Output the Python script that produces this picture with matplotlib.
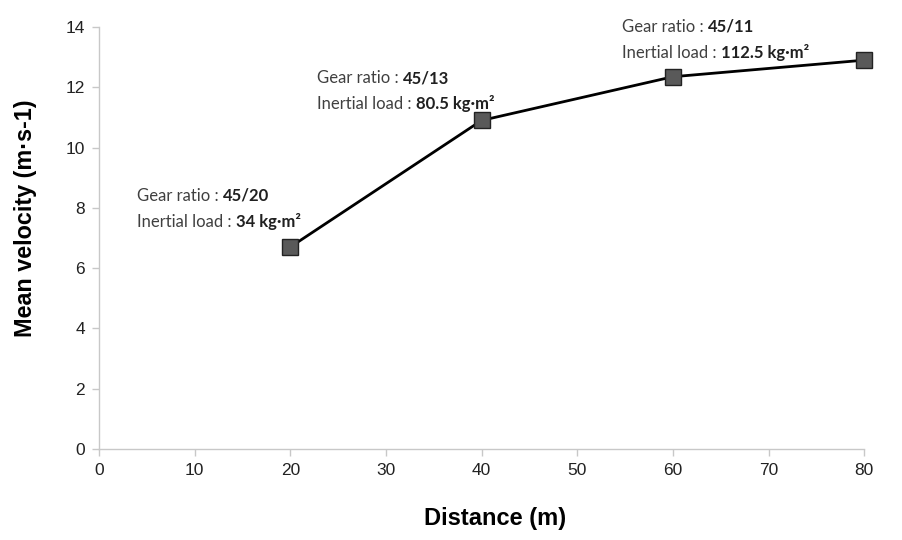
import matplotlib
matplotlib.use('Agg')
import matplotlib.pyplot as plt
from matplotlib.offsetbox import TextArea, HPacker, AnnotationBbox

## Data
distance = [20, 40, 60, 80]
velocity = [6.7, 10.9, 12.35, 12.9]
gear_ratio = ['45/20', '45/13', '45/11']
inertial_load = ['34', '80.5', '112.5']
# label anchor (x, y of first line) in data units
label_xy = [(4, 8.4), (22.8, 12.3), (54.7, 14.0)]

TXT = '#404040'
LBL_FONT = ['Lato', 'DejaVu Sans']
ARIAL = ['Liberation Sans', 'DejaVu Sans']

f = plt.figure(figsize=(9.03, 5.40), dpi=100)
ax = f.add_axes([0.1096, 0.1685, 0.957 - 0.1096, 0.95 - 0.1685])

ax.plot(distance, velocity, color='black', lw=2, marker='s', ms=11,
        mfc='#595959', mec='#222222', mew=1, zorder=3, clip_on=False)

ax.set_xlim(0, 80)
ax.set_ylim(0, 14)
ax.set_xticks(range(0, 81, 10))
ax.set_yticks(range(0, 15, 2))
for s in ['top', 'right']:
    ax.spines[s].set_visible(False)
for s in ['left', 'bottom']:
    ax.spines[s].set_color('#c8c8c8')
    ax.spines[s].set_linewidth(1)
ax.tick_params(axis='both', colors='#c8c8c8', labelcolor='#222222',
               labelsize=12.5, length=5, width=1, direction='out')
for lab in ax.get_xticklabels() + ax.get_yticklabels():
    lab.set_family(ARIAL)
ax.tick_params(axis='x', pad=5)
ax.tick_params(axis='y', pad=5)

ax.set_xlabel('Distance (m)', fontsize=17, fontweight='bold', family=ARIAL)
ax.set_ylabel('Mean velocity (m·s-1)', fontsize=16.8, fontweight='bold',
              family=ARIAL)
# Excel puts the titles slightly off-centre
ax.xaxis.set_label_coords(0.517, -0.138)
ax.yaxis.set_label_coords(-0.081, 0.547)

## Annotations: normal text followed by bold value, aligned on baseline
dy = 0.85
for (x, y), g, l in zip(label_xy, gear_ratio, inertial_load):
    for i, (plain, bold) in enumerate([('Gear ratio : ', g),
                                       ('Inertial load : ', l + ' kg·m²')]):
        p1 = TextArea(plain, textprops=dict(fontsize=12, color=TXT,
                                            family=LBL_FONT))
        p2 = TextArea(bold, textprops=dict(fontsize=12, color='#202020',
                                           fontweight='bold', family=LBL_FONT))
        box = HPacker(children=[p1, p2], align='baseline', pad=0, sep=0)
        ab = AnnotationBbox(box, (x, y - i * dy), xycoords='data',
                            box_alignment=(0, 0.5), frameon=False, pad=0)
        ax.add_artist(ab)

f.savefig('out.png', dpi=100)
